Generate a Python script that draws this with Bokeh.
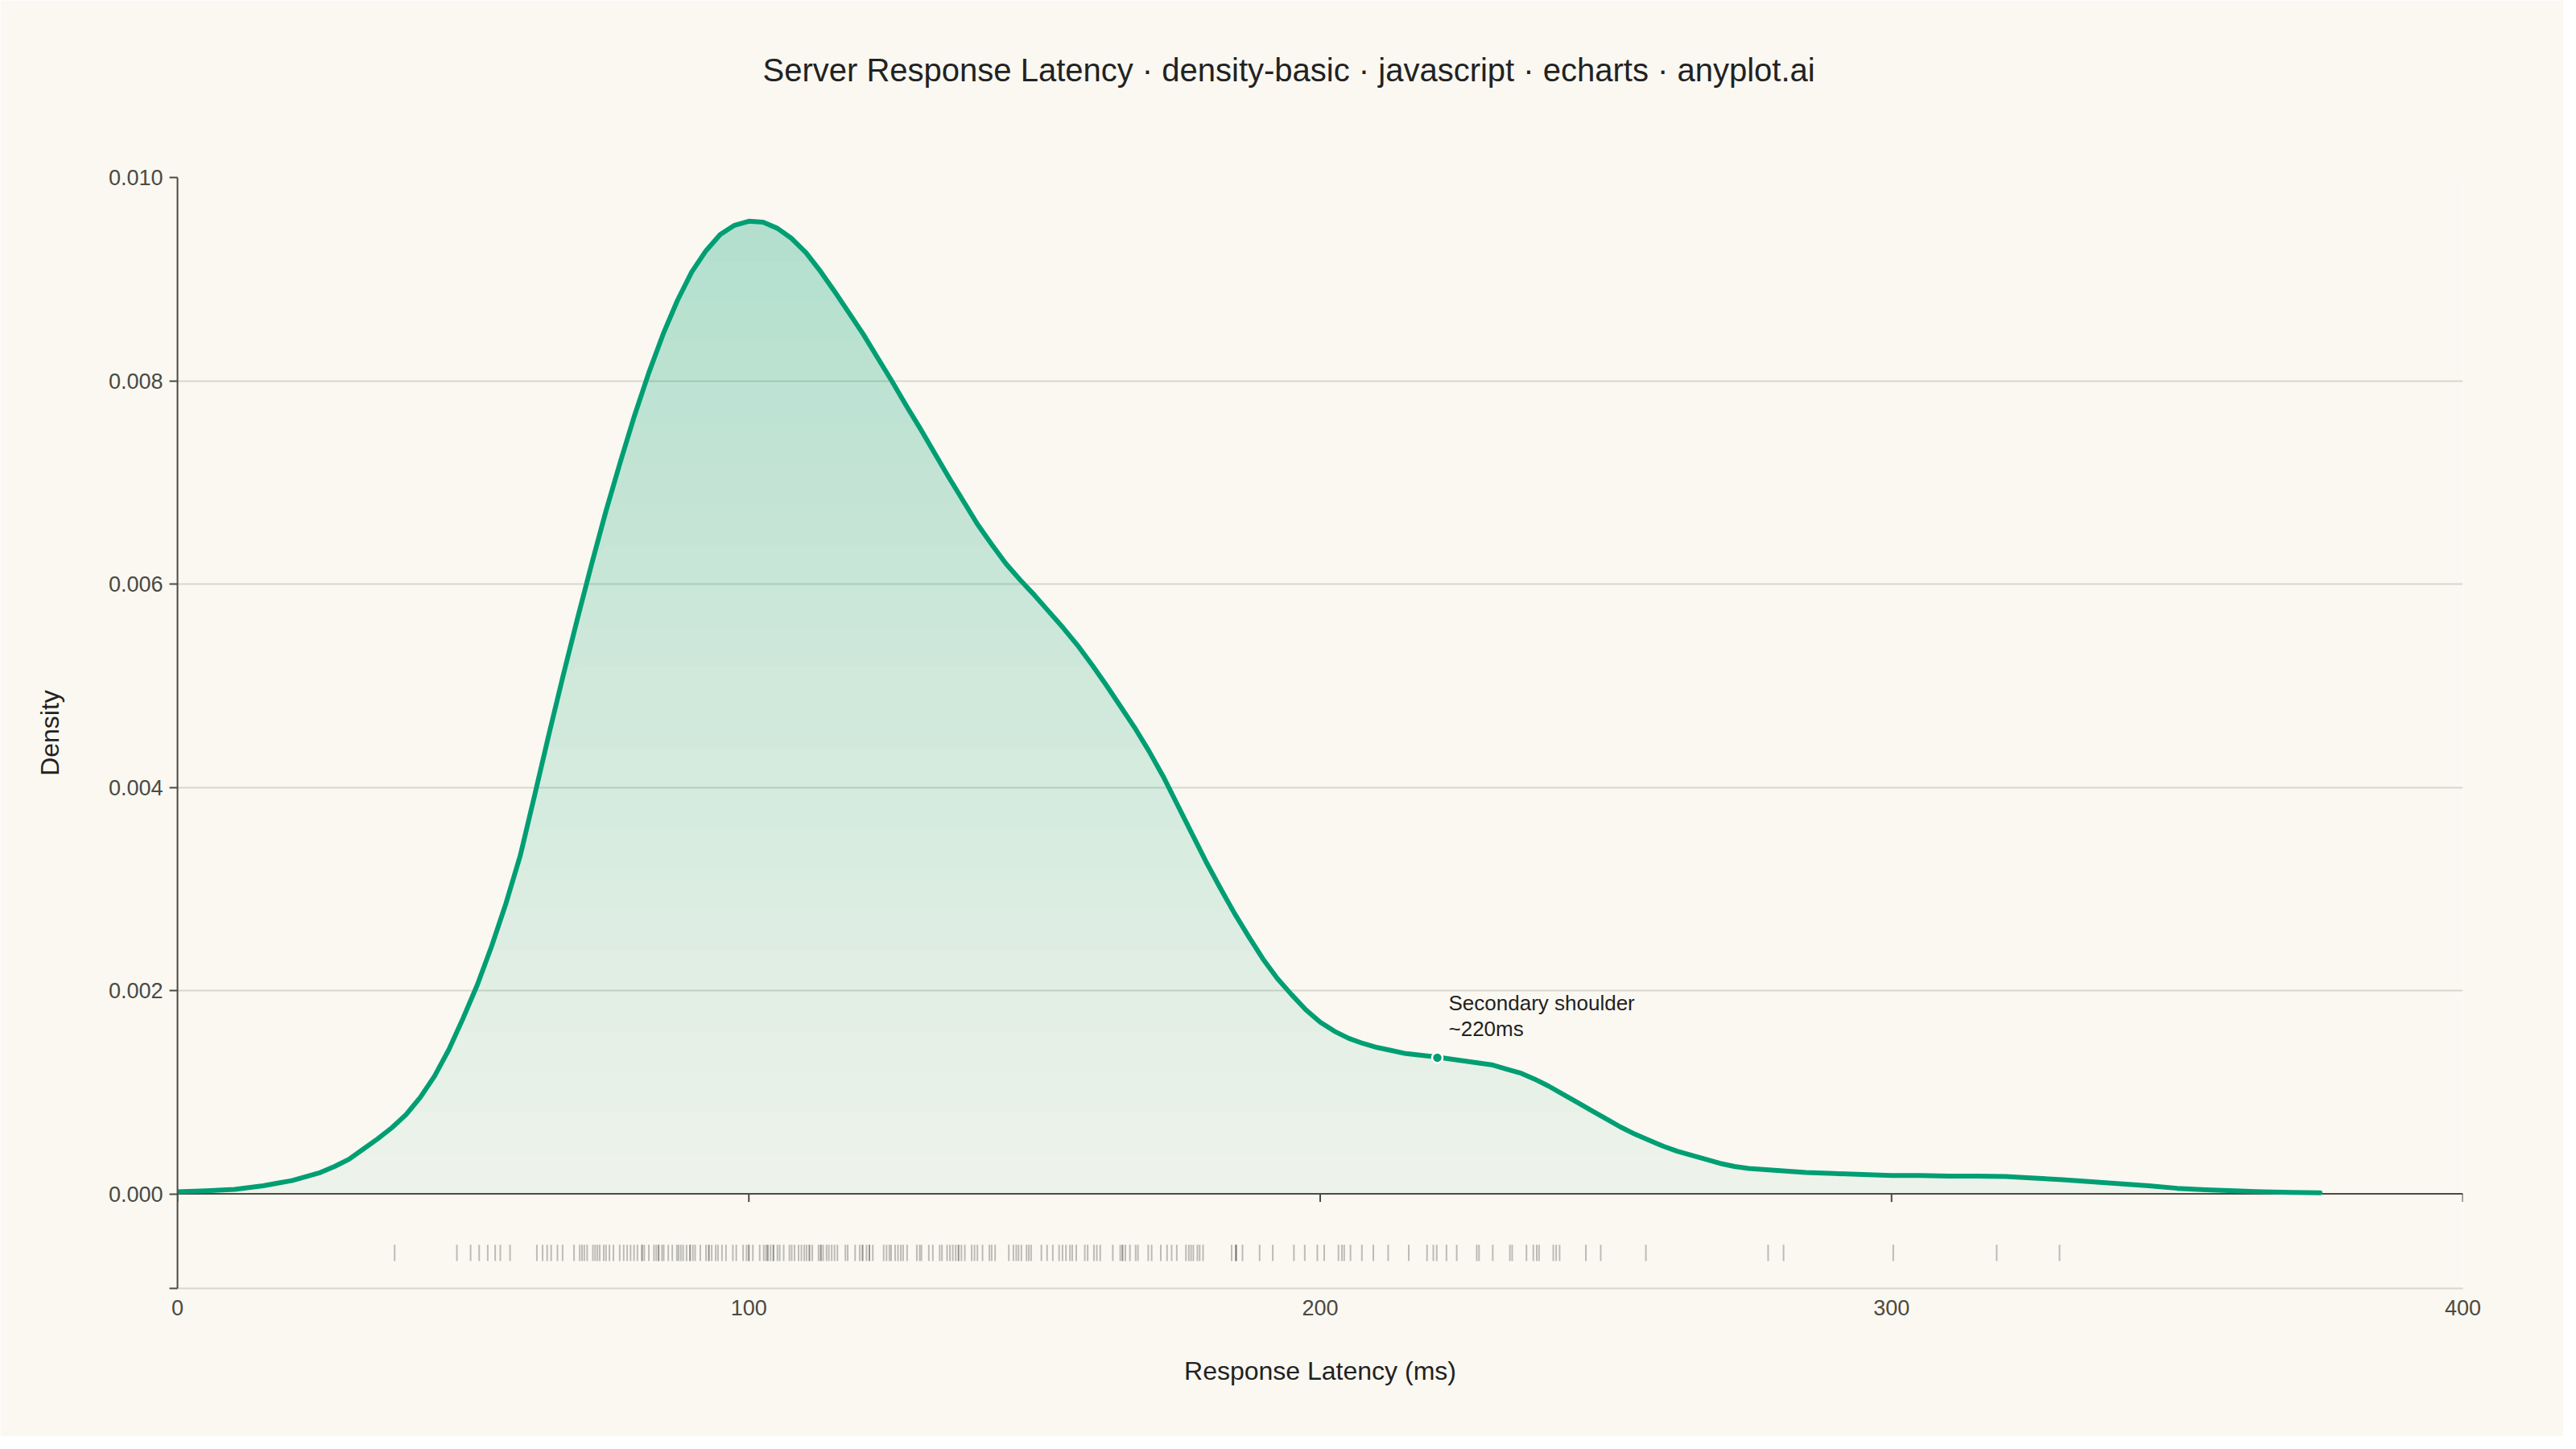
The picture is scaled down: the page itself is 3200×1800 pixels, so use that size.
import numpy as np
from bokeh.plotting import figure
from bokeh.models import Range1d, FixedTicker, CustomJSTickFormatter, Span, Title
from bokeh.core.properties import value
from bokeh.embed import file_html
from bokeh.resources import INLINE

# ---------------- data ----------------
LATENCY_MS = [0, 5, 10, 15, 17.5, 20, 22.5, 25, 27.5, 30, 32.5, 35, 37.5, 40, 42.5, 45, 47.5,
              50, 52.5, 55, 57.5, 60, 62.5, 65, 67.5, 70, 72.5, 75, 77.5, 80, 82.5, 85, 87.5,
              90, 92.5, 95, 97.5, 100, 102.5, 105, 107.5, 110, 112.5, 115, 117.5, 120, 122.5,
              125, 127.5, 130, 132.5, 135, 137.5, 140, 142.5, 145, 147.5, 150, 152.5, 155,
              157.5, 160, 162.5, 165, 167.5, 170, 172.5, 175, 177.5, 180, 182.5, 185, 187.5,
              190, 192.5, 195, 197.5, 200, 202.5, 205, 207.5, 210, 212.5, 215, 217.5, 220,
              222.5, 225, 227.5, 230, 232.5, 235, 237.5, 240, 242.5, 245, 247.5, 250, 252.5,
              255, 257.5, 260, 262.5, 265, 267.5, 270, 272.5, 275, 277.5, 280, 285, 290, 295,
              300, 305, 310, 315, 320, 325, 330, 335, 340, 345, 350, 355, 360, 365, 370, 375]
DENSITY = [0.00002, 0.00003, 0.000045, 0.00008, 0.000105, 0.00013, 0.00017, 0.00021, 0.00027,
           0.00034, 0.00044, 0.00054, 0.00065, 0.00078, 0.00095, 0.00116, 0.00142,
           0.00173, 0.00206, 0.00244, 0.00286, 0.00333, 0.00392, 0.00452, 0.00510, 0.00566,
           0.00620, 0.00672, 0.00720, 0.00766, 0.00808, 0.00846, 0.00879,
           0.00907, 0.00928, 0.00944, 0.00953, 0.00957, 0.00956, 0.00950, 0.00940, 0.00926,
           0.00908, 0.00888, 0.00867, 0.00846, 0.00823,
           0.00800, 0.00776, 0.00753, 0.00729, 0.00705, 0.00682, 0.00659, 0.00639, 0.00620,
           0.00604, 0.00589, 0.00573, 0.00557,
           0.00540, 0.00521, 0.00501, 0.00480, 0.00459, 0.00436, 0.00411, 0.00383, 0.00355,
           0.00327, 0.00301, 0.00276, 0.00253,
           0.00231, 0.00212, 0.00196, 0.00181, 0.00169, 0.00160, 0.00153, 0.00148, 0.00144,
           0.00141, 0.00138, 0.001365, 0.00135,
           0.00133, 0.00131, 0.00129, 0.00127, 0.00123, 0.00119, 0.00113, 0.00106, 0.00098,
           0.00090, 0.00082, 0.00074, 0.00066,
           0.00059, 0.00053, 0.00047, 0.00042, 0.00038, 0.00034, 0.00030, 0.00027, 0.00025,
           0.00024, 0.00023, 0.00021, 0.00020, 0.00019,
           0.00018, 0.00018, 0.000175, 0.000175, 0.00017, 0.000155, 0.00014, 0.00012, 0.00010,
           0.00008, 0.000055, 0.00004, 0.00003, 0.00002, 0.000015, 0.00001]

RUG_MS = [38.0, 48.9, 51.3, 52.8, 54.3, 55.6, 56.5, 58.2, 62.9, 63.9, 64.7, 65.4, 66.5, 67.4,
          69.4, 70.4, 70.8, 71.2, 71.7, 72.7, 73.1, 73.5, 73.9, 74.6, 75.0, 75.6, 76.3, 77.4,
          78.1, 78.7, 79.3, 79.9, 80.5, 81.3, 81.3, 81.7, 82.5, 83.4, 83.8, 84.2, 84.2, 84.8,
          85.1, 85.9, 86.6, 87.4, 87.7, 88.1, 88.5, 89.1, 89.7, 89.7, 90.2, 90.6, 91.5, 92.5,
          93.0, 93.0, 93.5, 94.2, 94.6, 95.3, 96.0, 97.2, 97.8, 99.0, 99.6, 100.0, 100.0, 100.7,
          101.9, 102.6, 103.0, 103.3, 103.3, 103.8, 104.3, 104.3, 105.0, 105.4, 106.1, 107.1,
          107.5, 108.0, 108.7, 109.2, 109.7, 110.1, 110.6, 110.6, 111.1, 112.2, 112.6, 112.6,
          113.0, 113.6, 114.0, 114.5, 115.0, 115.5, 116.9, 117.3, 118.6, 119.4, 119.9, 119.9,
          120.6, 121.1, 121.1, 121.7, 123.6, 124.1, 124.6, 124.9, 125.6, 126.1, 126.6, 127.0,
          127.7, 129.4, 129.9, 130.2, 131.5, 132.2, 133.4, 133.8, 134.7, 135.2, 135.7, 136.2,
          136.7, 136.7, 137.2, 137.8, 139.0, 139.5, 140.0, 140.9, 142.1, 142.5, 143.1, 145.5,
          146.3, 146.8, 147.2, 147.7, 148.6, 149.0, 149.4, 151.2, 152.2, 153.2, 154.3, 154.9,
          155.5, 156.2, 156.6, 157.3, 158.8, 159.3, 160.4, 160.9, 161.5, 163.7, 165.0, 165.4,
          165.4, 165.9, 166.7, 167.7, 168.1, 169.9, 170.5, 172.1, 173.2, 174.0, 174.9, 176.5,
          177.0, 177.4, 177.8, 178.5, 178.9, 179.5, 184.5, 185.2, 185.3, 185.3, 186.4, 189.4,
          191.7, 195.4, 197.3, 199.5, 200.7, 203.2, 203.8, 204.2, 205.3, 207.3, 209.3, 211.9,
          215.5, 218.7, 219.8, 220.4, 222.1, 223.9, 227.4, 227.8, 230.2, 233.2, 233.6, 236.1,
          237.3, 237.9, 238.3, 240.8, 241.3, 241.9, 246.5, 249.1, 257.0, 278.4, 281.1, 300.3,
          318.4, 329.4]

X_TICKS = [0, 100, 200, 300, 400]
Y_TICKS = [0.0, 0.002, 0.004, 0.006, 0.008, 0.010]
ANNOT_X = [220.5]
ANNOT_Y = [0.00134]
ANNOT_LINES = ["Secondary shoulder", "~220ms"]

TITLE = "Server Response Latency \u00b7 density-basic \u00b7 javascript \u00b7 echarts \u00b7 anyplot.ai"
X_LABEL = "Response Latency (ms)"
Y_LABEL = "Density"

# ---------------- styles ----------------
BG = "#FAF8F1"
GREEN = "#009E73"
AXIS = "#4A4A44"
GRID = "#D8D6CD"
INK = "#222222"
FONT = "Liberation Sans"

Y_MIN = -0.00093
Y_MAX = 0.010
RUG_Y0 = -0.0005
RUG_Y1 = -0.00066
FILL_ALPHA_BOTTOM = 0.05
FILL_ALPHA_TOP = 0.28

p = figure(frame_width=2839, frame_height=1380,
           x_range=Range1d(0, 400), y_range=Range1d(Y_MIN, Y_MAX),
           output_backend="svg", toolbar_location=None,
           background_fill_color=BG, border_fill_color=BG,
           min_border_left=220, min_border_right=125,
           min_border_top=220, min_border_bottom=184)
p.outline_line_color = None

# title: an empty spacer panel next to the frame, then the real title above it
p.title.text = ""
p.title.standoff = 0
p.add_layout(Title(text=" ", text_font_size="2px", standoff=108), "above")
p.add_layout(Title(text=TITLE, align="left", offset=727, standoff=0, text_font=FONT,
                   text_font_size="40px", text_font_style="normal", text_color=INK), "above")

# grid
p.xgrid.visible = False
p.ygrid.ticker = FixedTicker(ticks=Y_TICKS[1:])
p.ygrid.grid_line_color = GRID
p.ygrid.grid_line_width = 2

# y axis
ya = p.yaxis[0]
ya.ticker = FixedTicker(ticks=[Y_MIN] + Y_TICKS)
ya.formatter = CustomJSTickFormatter(code="return tick < -0.0001 ? '' : tick.toFixed(3);")
ya.axis_line_color = AXIS
ya.axis_line_width = 2
ya.major_tick_line_color = AXIS
ya.major_tick_line_width = 2
ya.major_tick_out = 10
ya.major_tick_in = 0
ya.minor_tick_line_color = None
ya.major_label_text_font = FONT
ya.major_label_text_font_size = "27px"
ya.major_label_text_color = AXIS
ya.major_label_standoff = 8
ya.axis_label = Y_LABEL
ya.axis_label_text_font = FONT
ya.axis_label_text_font_size = "32px"
ya.axis_label_text_font_style = "normal"
ya.axis_label_text_color = INK
ya.axis_label_standoff = 52

# x axis
xa = p.xaxis[0]
xa.ticker = FixedTicker(ticks=X_TICKS)
xa.axis_line_color = GRID
xa.axis_line_width = 2
xa.major_tick_line_color = None
xa.major_tick_out = 0
xa.major_tick_in = 0
xa.minor_tick_line_color = None
xa.major_label_text_font = FONT
xa.major_label_text_font_size = "27px"
xa.major_label_text_color = AXIS
xa.major_label_standoff = 14
xa.axis_label = X_LABEL
xa.axis_label_text_font = FONT
xa.axis_label_text_font_size = "32px"
xa.axis_label_text_font_style = "normal"
xa.axis_label_text_color = INK
xa.axis_label_standoff = 48

# zero line with ticks pointing down
p.add_layout(Span(location=0, dimension="width", line_color=AXIS, line_width=2, level="underlay"))
p.ray(x=X_TICKS, y=[0] * len(X_TICKS), length=10, length_units="screen",
      angle=-np.pi / 2, line_color=AXIS, line_width=2)

# vertical gradient fill: non-overlapping horizontal bands, each one translucent layer
x = np.array(LATENCY_MS, dtype=float)
d = np.array(DENSITY, dtype=float)
peak = d.max()
n_bands = int(round((FILL_ALPHA_TOP - FILL_ALPHA_BOTTOM) * 100)) + 1
for k in range(n_bands):
    lo = peak * k / n_bands
    hi = peak * (k + 1) / n_bands
    alpha = round(FILL_ALPHA_BOTTOM + 0.01 * k, 2)
    p.varea(x=x, y1=np.minimum(d, lo), y2=np.minimum(d, hi),
            fill_color=GREEN, fill_alpha=alpha)

# density line
p.line(x, d, line_color=GREEN, line_width=6, line_join="round", line_cap="round")

# rug
p.segment(x0=RUG_MS, y0=[RUG_Y0] * len(RUG_MS), x1=RUG_MS, y1=[RUG_Y1] * len(RUG_MS),
          line_color=AXIS, line_alpha=0.35, line_width=2)

# annotation
p.scatter(ANNOT_X, ANNOT_Y, size=13, fill_color=GREEN, line_color="white", line_width=2.5)
p.text(x=ANNOT_X, y=ANNOT_Y, text=[ANNOT_LINES[0]], x_offset=14, y_offset=-68,
       text_baseline="alphabetic", text_align="left", text_font=value(FONT),
       text_font_size="26px", text_color=INK)
p.text(x=ANNOT_X, y=ANNOT_Y, text=[ANNOT_LINES[1]], x_offset=14, y_offset=-36,
       text_baseline="alphabetic", text_align="left", text_font=value(FONT),
       text_font_size="26px", text_color=INK)

html = file_html(p, INLINE)
html = html.replace("<body>", '<body style="background-color:#FAF8F1;">', 1)
open("out.html", "w").write(html)
